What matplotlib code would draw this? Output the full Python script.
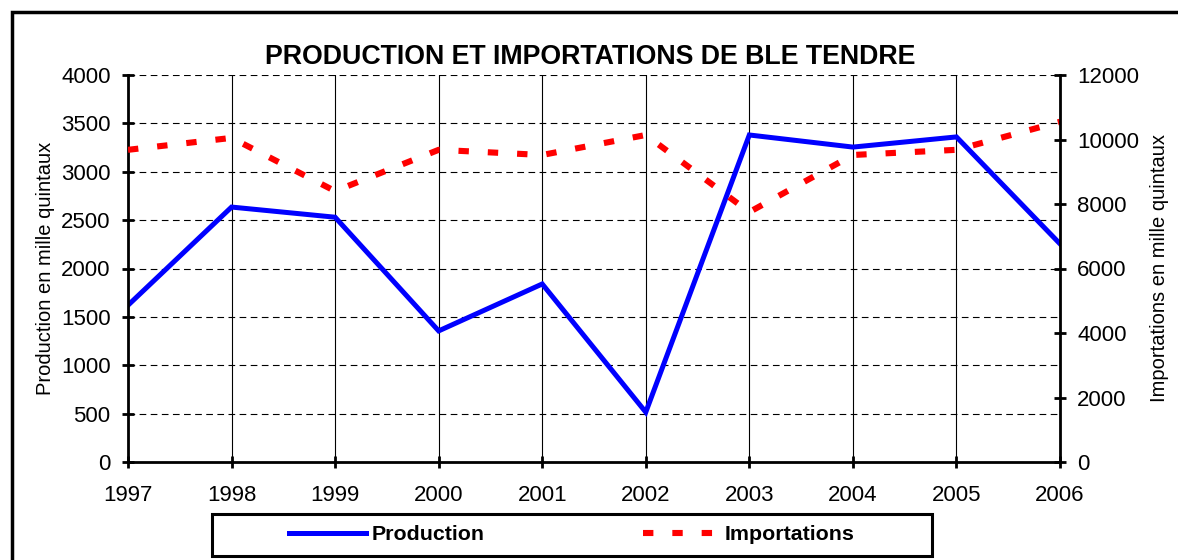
import matplotlib
matplotlib.use('Agg')
import matplotlib.pyplot as plt
from matplotlib.patches import Rectangle

plt.rcParams['font.family'] = ['Liberation Sans', 'DejaVu Sans']

years = [1997, 1998, 1999, 2000, 2001, 2002, 2003, 2004, 2005, 2006]
production = [1620, 2635, 2530, 1355, 1840, 515, 3380, 3255, 3360, 2255]
importations = [9680, 10050, 8400, 9680, 9520, 10140, 7750, 9520, 9680, 10550]

fig = plt.figure(figsize=(11.78, 5.6), dpi=100)
ax = fig.add_axes([128/1178, 1 - 462/560, (1060-128)/1178, (462-75)/560])

# outer frame of the chart area
fig.patches.append(Rectangle((12/1178, -0.05), 1.2, 1 - 12/560 + 0.05,
                             transform=fig.transFigure, fill=False,
                             edgecolor='black', linewidth=2.5))
# legend frame (drawn by hand, wider than matplotlib would make it)
fig.patches.append(Rectangle((212/1178, 1 - 556/560), (932-212)/1178, 42/560,
                             transform=fig.transFigure, fill=False,
                             edgecolor='black', linewidth=2.2))

l1, = ax.plot(years, production, color='#0000ff', linewidth=3.6, label='Production',
              solid_joinstyle='miter')
ax.set_xlim(1997, 2006)
ax.set_ylim(0, 4000)
ax.set_yticks(range(0, 4001, 500))
ax.set_xticks(years)
ax.set_ylabel('Production en mille quintaux', fontsize=14.5, labelpad=4)
ax.yaxis.grid(True, linestyle=(0, (6, 4)), color='black', linewidth=0.8)
ax.xaxis.grid(True, linestyle='-', color='black', linewidth=0.8)
ax.set_axisbelow(True)

ax2 = ax.twinx()
l2, = ax2.plot(years, importations, color='#ff0000', linewidth=4.4,
               linestyle=(0, (1.7, 3.1)), dash_capstyle='butt', label='Importations')
ax2.set_ylim(0, 12000)
ax2.set_yticks(range(0, 12001, 2000))
ax2.set_ylabel('Importations en mille quintaux', fontsize=14.5, labelpad=8)

for a in (ax, ax2):
    for s in a.spines.values():
        s.set_visible(False)
ax.spines['left'].set_visible(True)
ax.spines['bottom'].set_visible(True)
ax2.spines['right'].set_visible(True)
for s in (ax.spines['left'], ax.spines['bottom'], ax2.spines['right']):
    s.set_linewidth(2)

ax.tick_params(axis='both', direction='inout', length=9, width=2, labelsize=16)
ax.tick_params(axis='x', pad=12)
ax.tick_params(axis='y', pad=8)
ax2.tick_params(axis='y', direction='inout', length=9, width=2, labelsize=16, pad=8)

fig.text(590/1178, 1 - 57/560, 'PRODUCTION ET IMPORTATIONS DE BLE TENDRE',
         ha='center', va='center', fontsize=19.3, fontweight='bold')

leg = fig.legend(handles=[l1, l2], loc='center', ncol=2,
                 bbox_to_anchor=(572/1178, 1 - 535/560), frameon=False,
                 prop={'weight': 'bold', 'size': 15.4}, handlelength=3.6,
                 handletextpad=0.25, columnspacing=7.4, borderpad=0.5)

plt.savefig('out.png', dpi=100)
